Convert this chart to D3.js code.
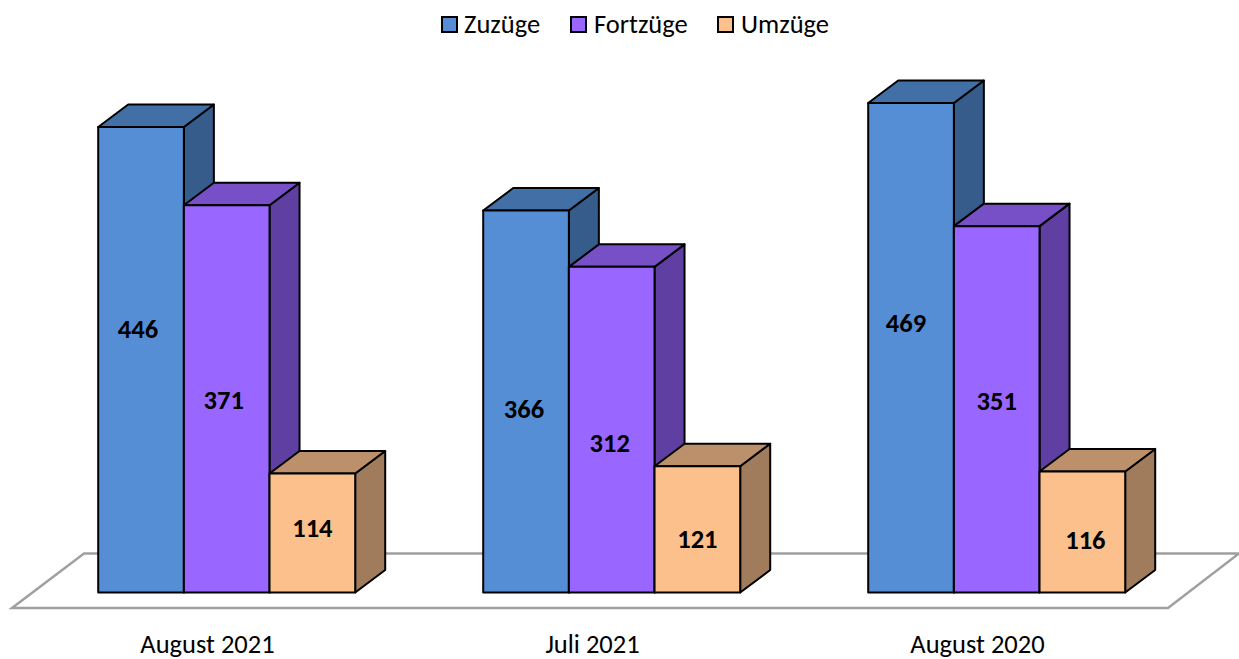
<!DOCTYPE html>
<html><head><meta charset="utf-8">
<style>html,body{margin:0;padding:0;background:#fff}svg{display:block}text{font-family:Carlito,Lato,"Open Sans",sans-serif;fill:#000}</style>
<script src="https://cdn.jsdelivr.net/npm/d3@7/dist/d3.min.js"></script>
</head><body><script>
const categories = ["August 2021","Juli 2021","August 2020"];
const seriesNames = ["Zuzüge","Fortzüge","Umzüge"];
const zuzuege = [446,366,469];
const fortzuege = [371,312,351];
const umzuege = [114,121,116];
const seriesValues = [zuzuege,fortzuege,umzuege];
const frontColors = ["#558ed5","#9966ff","#fcc08d"];
const topColors = ["#426fa6","#774fc6","#bd906c"];
const sideColors = ["#355c8b","#603fa3","#a17c5c"];
const labelNudgeY = [[-31,1,-5],[7,13,10],[-25,-8,8]];
const labelNudgeX = [[-3,-3,0],[-2,-2,0],[-5,0,3]];

const W=1239,H=659,dx=30,dy=-22.5,base=592.5;
const svg=d3.select("body").append("svg").attr("width",W).attr("height",H);
const x0=d3.scaleBand().domain(categories).range([15,1170]);
const x1=d3.scaleBand().domain(seriesNames).range([0,257]);
const y=d3.scaleLinear().domain([0,469]).range([base,103]);
const line=d3.line();

svg.append("path").attr("d",line([[12,608],[84,553.5],[1239,553.5],[1168,608]])+"Z")
  .attr("fill","#fff").attr("stroke","#a0a0a0").attr("stroke-width",2.5);

categories.forEach((c,ci)=>{
  const g=svg.append("g").attr("transform",`translate(${x0(c)+x0.bandwidth()/2-109.3},0)`);
  seriesNames.forEach((s,si)=>{
    const v=seriesValues[si][ci],l=x1(s),r=l+x1.bandwidth(),t=y(v),b=y(0);
    const st={stroke:"#000","stroke-width":2,"stroke-linejoin":"round"};
    const add=(pts,fill)=>{const p=g.append("path").attr("d",line(pts)+"Z").attr("fill",fill);for(const k in st)p.attr(k,st[k]);};
    add([[r,t],[r+dx,t+dy],[r+dx,b+dy],[r,b]],sideColors[si]);
    add([[l,t],[l+dx,t+dy],[r+dx,t+dy],[r,t]],topColors[si]);
    add([[l,t],[r,t],[r,b],[l,b]],frontColors[si]);
  });
  seriesNames.forEach((s,si)=>{
    const v=seriesValues[si][ci];
    g.append("text").attr("x",x1(s)+x1.bandwidth()/2+labelNudgeX[ci][si])
      .attr("y",(y(v)+y(0))/2+labelNudgeY[ci][si])
      .attr("text-anchor","middle").attr("dominant-baseline","central")
      .attr("font-size",26.5).attr("font-weight",700).text(v);
  });
});

const ax=svg.append("g").attr("transform","translate(0,624)")
  .call(d3.axisBottom(x0).tickSize(0).tickPadding(10));
ax.select(".domain").remove();
ax.selectAll("text").attr("font-size",26.5).style("font-family",'Carlito,Lato,"Open Sans",sans-serif');

const legendX=[442,571,718];
const legendTextX=[464,594,741];
const lg=svg.append("g");
seriesNames.forEach((s,i)=>{
  lg.append("rect").attr("x",legendX[i]).attr("y",17).attr("width",15).attr("height",15)
    .attr("fill",frontColors[i]).attr("stroke","#000").attr("stroke-width",2);
  lg.append("text").attr("x",legendTextX[i]).attr("y",33).attr("font-size",26.5).text(s);
});
</script></body></html>
